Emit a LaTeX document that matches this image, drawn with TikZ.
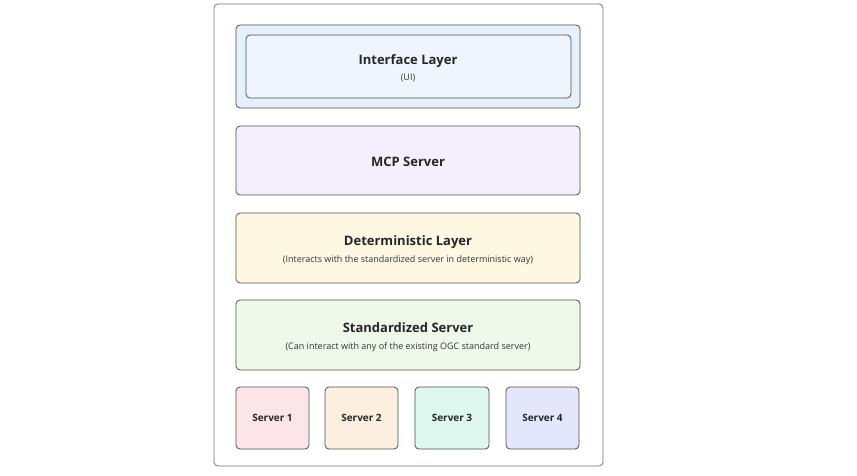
\documentclass[tikz,border=0pt]{standalone}
\usepackage{fontspec}
\setmainfont{Open Sans}
\definecolor{edge}{HTML}{505050}
\definecolor{uiout}{HTML}{E6F0FB}
\definecolor{uiin}{HTML}{EFF5FC}
\definecolor{mcpc}{HTML}{F4EFFC}
\definecolor{detc}{HTML}{FEF7E1}
\definecolor{stdc}{HTML}{EFF9E9}
\definecolor{s1c}{HTML}{FCE5E9}
\definecolor{s2c}{HTML}{FDEFDF}
\definecolor{s3c}{HTML}{DEF7EF}
\definecolor{s4c}{HTML}{E4E7FB}
\tikzset{
  box/.style={draw=edge, line width=0.8pt, rounded corners=4pt},
  ttl/.style={font=\fontsize{13}{15}\selectfont\bfseries, text=black!85},
  sub/.style={font=\fontsize{9}{11}\selectfont, text=black!80},
  srv/.style={font=\fontsize{10}{12}\selectfont\bfseries, text=black!85},
}
\begin{document}
\begin{tikzpicture}[x=1pt,y=-1pt]
\useasboundingbox (0,0) rectangle (857,476);
\fill[white] (0,0) rectangle (857,476);
\draw[box, fill=white, draw=edge!80] (214,4) rectangle (603,466);
% interface
\draw[box, fill=uiout] (236,25) rectangle (580,108);
\draw[box, fill=uiin] (246,35) rectangle (571,98);
\node[ttl] (ui) at (408,61) {Interface Layer};
\node[sub] (uis) at (408,78) {(UI)};
% MCP
\draw[box, fill=mcpc] (236,126) rectangle (580,195);
\node[ttl] (mcp) at (408,162) {MCP Server};
% deterministic
\draw[box, fill=detc] (236,213) rectangle (580,283);
\node[ttl] (det) at (408,242) {Deterministic Layer};
\node[sub] (dets) at (408,260) {(Interacts with the standardized server in deterministic way)};
% standardized
\draw[box, fill=stdc] (236,300) rectangle (580,370);
\node[ttl] (std) at (408,328) {Standardized Server};
\node[sub] (stds) at (408,347) {(Can interact with any of the existing OGC standard server)};
% servers
\draw[box, fill=s1c] (236,387) rectangle (309,449);
\node[srv] (s1) at (272.5,418) {Server 1};
\draw[box, fill=s2c] (325,387) rectangle (398,449);
\node[srv] (s2) at (361.5,418) {Server 2};
\draw[box, fill=s3c] (415,387) rectangle (489,449);
\node[srv] (s3) at (452,418) {Server 3};
\draw[box, fill=s4c] (506,387) rectangle (579,449);
\node[srv] (s4) at (542.5,418) {Server 4};
\end{tikzpicture}
\end{document}
